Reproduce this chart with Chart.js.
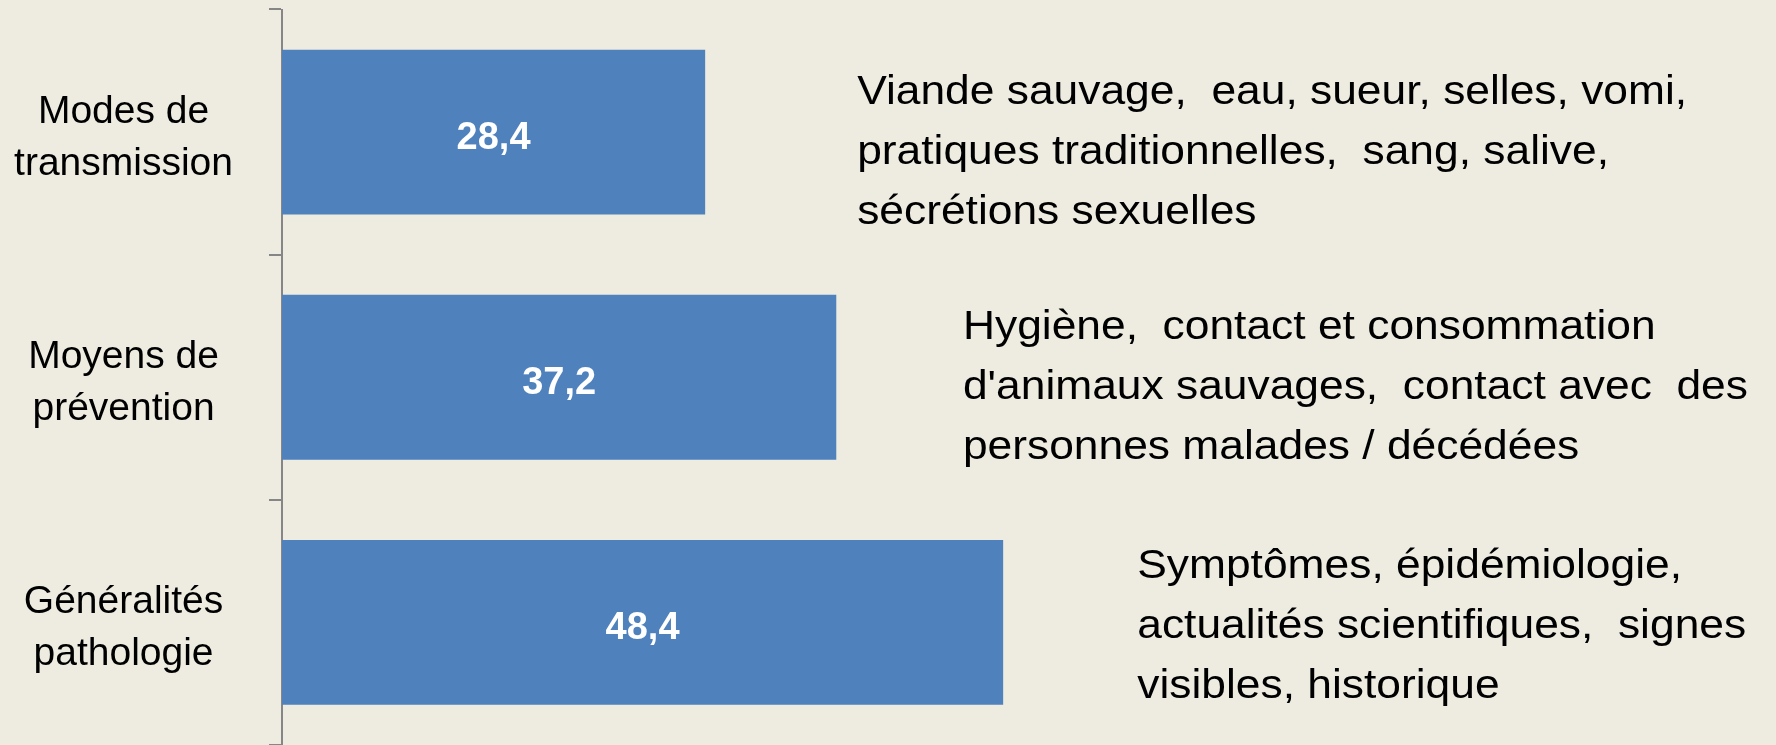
<!DOCTYPE html>
<html>
<head>
<meta charset="utf-8">
<script src="https://cdn.jsdelivr.net/npm/chart.js@4/dist/chart.umd.min.js"></script>
<style>
  html, body { margin: 0; padding: 0; background: #EEECE1; }
  canvas { display: block; }
</style>
</head>
<body>
<canvas id="c" width="1776" height="745"></canvas>
<script>
// ---- data ----
const categories = [
  ["Modes de", "transmission"],
  ["Moyens de", "prévention"],
  ["Généralités", "pathologie"]
];
const values = [28.4, 37.2, 48.4];
const valueLabels = ["28,4", "37,2", "48,4"];
const notes = [
  ["Viande sauvage,  eau, sueur, selles, vomi,",
   "pratiques traditionnelles,  sang, salive,",
   "sécrétions sexuelles"],
  ["Hygiène,  contact et consommation",
   "d'animaux sauvages,  contact avec  des",
   "personnes malades / décédées"],
  ["Symptômes, épidémiologie,",
   "actualités scientifiques,  signes",
   "visibles, historique"]
];

// ---- layout (not data) ----
const noteAt = [38.6, 45.7, 57.4];     // left edge of note blocks, in value units
const noteDy = [32, 22, 16];           // middle-line baseline offset from bar centre
const noteLineGap = 60;
const noteFirstWidth = 830;
const labelShift = 6;                  // category label vertical nudge
const BG = '#EEECE1';
const AXIS = '#868686';

const overlay = {
  id: 'overlay',
  beforeDraw(chart) {
    const ctx = chart.ctx;
    ctx.save();
    ctx.fillStyle = BG;
    ctx.fillRect(0, 0, chart.width, chart.height);
    ctx.restore();
    const ys = chart.scales.y;
    const items = ys.getLabelItems(chart.chartArea);
    items.forEach(it => {
      if (it.options && it.options.translation && !it._shifted) {
        it.options.translation[1] += labelShift;
        it._shifted = true;
      }
    });
  },
  afterDatasetsDraw(chart) {
    const ctx = chart.ctx;
    const meta = chart.getDatasetMeta(0);
    const xs = chart.scales.x;
    ctx.save();
    // value labels
    ctx.font = 'bold 38px "Liberation Sans"';
    ctx.fillStyle = '#FFFFFF';
    ctx.textAlign = 'center';
    ctx.textBaseline = 'alphabetic';
    meta.data.forEach((bar, i) => {
      const cx = (bar.x + bar.base) / 2;
      ctx.fillText(valueLabels[i], cx, bar.y + 16.5);
    });
    // notes
    ctx.font = '41px "Liberation Sans"';
    ctx.fillStyle = '#000000';
    ctx.textAlign = 'left';
    const sx = noteFirstWidth / ctx.measureText(notes[0][0]).width;
    meta.data.forEach((bar, i) => {
      const x0 = xs.getPixelForValue(noteAt[i]);
      const mid = bar.y + noteDy[i];
      notes[i].forEach((line, j) => {
        ctx.save();
        ctx.translate(x0, mid + (j - 1) * noteLineGap);
        ctx.scale(sx, 1);
        ctx.fillText(line, 0, 0);
        ctx.restore();
      });
    });
    ctx.restore();
  }
};

new Chart(document.getElementById('c'), {
  type: 'bar',
  data: {
    labels: categories,
    datasets: [{
      data: values,
      backgroundColor: '#4F81BD',
      borderWidth: 0,
      barPercentage: 0.672,
      categoryPercentage: 1
    }]
  },
  options: {
    indexAxis: 'y',
    responsive: false,
    animation: false,
    devicePixelRatio: 1,
    layout: { padding: { top: 9.5, bottom: 0, left: 0, right: 4 } },
    plugins: { legend: { display: false }, tooltip: { enabled: false } },
    scales: {
      x: { display: false, min: 0, max: 100 },
      y: {
        position: 'left',
        offset: true,
        grid: {
          display: true, offset: true, drawOnChartArea: false, drawTicks: true,
          tickLength: 13, color: AXIS, lineWidth: 2
        },
        border: { display: true, color: AXIS, width: 2 },
        ticks: {
          color: '#000000',
          font: { family: '"Liberation Sans"', size: 39, lineHeight: 1.33 },
          padding: 36,
          crossAlign: 'center'
        },
        afterFit(scale) {
          scale.width = 282;
          scale.paddingTop = 0;
          scale.paddingBottom = 0;
        }
      }
    }
  },
  plugins: [overlay]
});
</script>
</body>
</html>
